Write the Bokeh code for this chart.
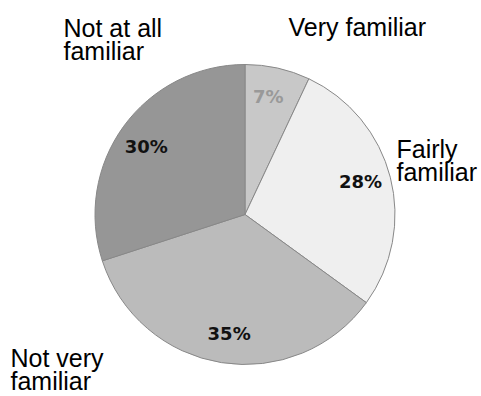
import math
from bokeh.plotting import figure
from bokeh.models import Range1d, ColumnDataSource
from bokeh.core.properties import value
from bokeh.embed import file_html
from bokeh.resources import INLINE

# ---- data ----
categories = ["Very familiar", "Fairly familiar", "Not very familiar", "Not at all familiar"]
display_labels = ["Very familiar", "Fairly\nfamiliar", "Not very\nfamiliar", "Not at all\nfamiliar"]
percents = [7, 28, 35, 30]
colors = ["#c8c8c8", "#efefef", "#bbbbbb", "#969696"]
pct_text_colors = ["#999999", "#111111", "#111111", "#111111"]

# ---- layout ----
W, H = 481, 396
CX, CY_PX, R = 244.5, 214.0, 150.0
CY = H - CY_PX

def py(y):
    return H - y

total = float(sum(percents))
starts, ends, mids = [], [], []
cum = 0.0
for v in percents:
    a0 = math.pi / 2 - 2 * math.pi * cum / total
    cum += v
    a1 = math.pi / 2 - 2 * math.pi * cum / total
    starts.append(a0)
    ends.append(a1)
    mids.append((a0 + a1) / 2)

src = ColumnDataSource(dict(cat=categories, pct=percents, color=colors,
                            start=starts, end=ends))

p = figure(width=W, height=H, x_range=Range1d(0, W), y_range=Range1d(0, H),
           output_backend="svg", toolbar_location=None, min_border=0)
p.axis.visible = False
p.grid.visible = False
p.outline_line_color = None
p.background_fill_color = "white"
p.border_fill_color = "white"

p.wedge(x=CX, y=CY, radius=R, start_angle="start", end_angle="end",
        direction="clock", fill_color="color", line_color="#888888",
        line_width=1, source=src)

# percentage labels inside slices
lr = 0.8 * R
rot = math.radians(1.4)
px = [CX + lr * math.cos(m + rot) for m in mids]
pyy = [CY + lr * math.sin(m + rot) for m in mids]
pct_src = ColumnDataSource(dict(x=px, y=pyy, t=[f"{v}%" for v in percents],
                                c=pct_text_colors))
p.text(x="x", y="y", text="t", text_color="c", source=pct_src,
       text_font=value("DejaVu Sans"), text_font_style="bold",
       text_font_size="18px", text_align="center", text_baseline="middle")

# category labels outside
label_pos = [(288, 12), (396, 134), (10, 343), (63, 13)]
lab_src = ColumnDataSource(dict(x=[q[0] for q in label_pos],
                                y=[py(q[1]) for q in label_pos],
                                t=display_labels))
p.text(x="x", y="y", text="t", source=lab_src, text_color="#000000",
       text_font=value("Liberation Sans"), text_font_size="25px",
       text_align="left", text_baseline="top", text_line_height=0.84)

open("out.html", "w").write(file_html(p, INLINE))
